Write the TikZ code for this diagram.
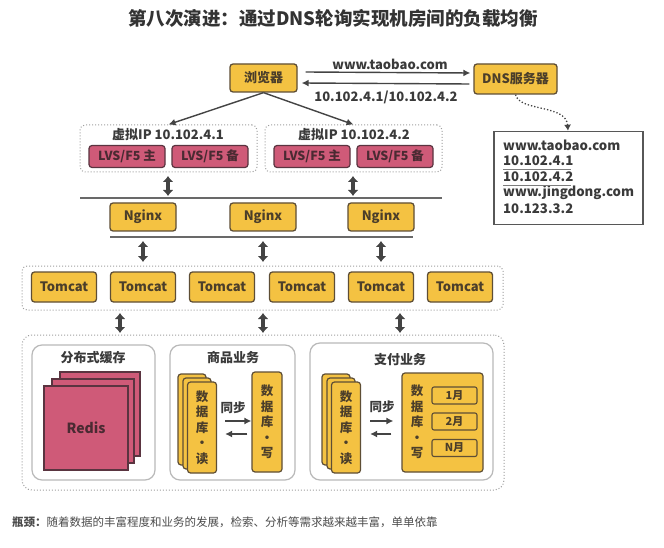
\documentclass[tikz,border=0pt]{standalone}
\usepackage{fontspec}
\setmainfont{Noto Sans CJK SC}
\usetikzlibrary{arrows.meta,calc}
\definecolor{yfill}{HTML}{F4C242}
\definecolor{ybd}{HTML}{5E4E35}
\definecolor{pfill}{HTML}{CF5A78}
\definecolor{pbd}{HTML}{5A3440}
\definecolor{txt}{HTML}{3A3A3A}
\definecolor{ptxt}{HTML}{4A2A32}
\definecolor{arr}{HTML}{444444}
\begin{document}
\begin{tikzpicture}[x=1pt,y=-1pt,
  every node/.style={text=txt},
  ybox/.style={draw=ybd, fill=yfill, line width=1.3pt, rounded corners=3pt, inner sep=0pt,
    font=\bfseries\fontsize{13}{15}\selectfont, text=ybd!80!black},
  pbox/.style={draw=pbd, fill=pfill, line width=1.2pt, rounded corners=3pt, inner sep=0pt,
    minimum width=76pt, minimum height=22pt, font=\bfseries\fontsize{12.5}{14}\selectfont, text=ptxt},
  grp/.style={draw=gray!75, dotted, line width=1pt, rounded corners=5pt, inner sep=0pt},
  inner/.style={draw=gray!55, line width=1.2pt, rounded corners=10pt, fill=white, inner sep=0pt},
  dbl/.style={line width=3.8pt, draw=arr, {Latex[length=6pt,width=11pt]}-{Latex[length=6pt,width=11pt]}},
  thin/.style={line width=1.4pt, draw=arr, -{Latex[length=7pt,width=7pt]}},
  lbl/.style={font=\bfseries\fontsize{13}{15}\selectfont, inner sep=0pt},
  tlbl/.style={font=\bfseries\fontsize{13.2}{15}\selectfont, inner sep=0pt, anchor=west},
  vtxt/.style={font=\bfseries\fontsize{12.5}{15.5}\selectfont, align=center, text=ybd!80!black, inner sep=0pt},
  dbr/.style={draw=ybd, fill=yfill, line width=1.2pt, rounded corners=3pt},
  sq/.style={draw=pbd, fill=pfill, line width=1.1pt},
  hline/.style={draw=arr!80, line width=1.4pt},
  mbox/.style={draw=ybd, line width=1.1pt, rounded corners=2pt, minimum width=45pt, minimum height=17pt, inner sep=0pt, font=\bfseries\fontsize{11}{12}\selectfont, text=ybd!80!black}
]
\useasboundingbox (0,0) rectangle (664,548);
\fill[white] (0,0) rectangle (664,548);

% title
\node[font=\bfseries\fontsize{18.5}{20}\selectfont, text=black!80] (title) at (333,18) {第八次演进：通过DNS轮询实现机房间的负载均衡};

% browser & dns
\node[ybox, minimum width=67pt, minimum height=28pt] (br) at (263.5,78) {浏览器};
\node[ybox, minimum width=83pt, minimum height=30pt] (dns) at (515.5,79) {DNS服务器};
\draw[thin] ([xshift=8pt,yshift=6pt]br.east) -- ([xshift=-3pt,yshift=6pt]dns.west);
\draw[thin] ([xshift=-4pt,yshift=-5pt]dns.west) -- ([xshift=4pt,yshift=-5pt]br.east);
\node[lbl] (l1) at (390,64) {www.taobao.com};
\node[lbl] (l2) at (386,97) {10.102.4.1/10.102.4.2};

% DNS table
\node[draw=arr!90, line width=1.6pt, minimum width=149pt, minimum height=93pt, inner sep=0pt] (tbl) at (568.5,178) {};
\node[tlbl] (t1) at (503,145) {www.taobao.com};
\node[tlbl] (t2) at (503,161) {10.102.4.1};
\node[tlbl] (t3) at (503,177) {10.102.4.2};
\node[tlbl] (t4) at (503,193) {www.jingdong.com};
\node[tlbl] (t5) at (503,209) {10.123.3.2};
\draw[arr!70, line width=0.9pt] (503,169.5) -- (571,169.5);
\draw[arr!70, line width=0.9pt] (503,185) -- (571,185);
\draw[arr, dotted, line width=1.3pt, -{Latex[length=6pt,width=7pt]}] (dns.south) .. controls (520,112) and (566,104) .. (tbl.north -| 568,0);

% virtual IP groups
\node[grp, minimum width=177pt, minimum height=47pt] (g1) at (168.5,148.5) {};
\node[grp, minimum width=177pt, minimum height=47pt] (g2) at (353.5,148.5) {};
\draw[thin] (br.south) -- (g1.north);
\draw[thin] (br.south) -- (g2.north);
\node[lbl] (v1) at (168,135) {虚拟IP 10.102.4.1};
\node[lbl] (v2) at (354,135) {虚拟IP 10.102.4.2};
\node[pbox] (p1) at (127,156.5) {LVS/F5 主};
\node[pbox] (p2) at (210,156.5) {LVS/F5 备};
\node[pbox] (p3) at (312,156.5) {LVS/F5 主};
\node[pbox] (p4) at (395,156.5) {LVS/F5 备};

% nginx layer
\coordinate (a1) at (168,176); \coordinate (a1b) at (168,196);
\coordinate (a2) at (353,176); \coordinate (a2b) at (353,196);
\draw[dbl] (a1) -- (a1b);
\draw[dbl] (a2) -- (a2b);
\coordinate (h1a) at (80,198); \coordinate (h1b) at (442,198);
\draw[hline] (h1a) -- (h1b);
\node[ybox, minimum width=66pt, minimum height=28pt] (n1) at (143,217) {Nginx};
\node[ybox, minimum width=66pt, minimum height=28pt] (n2) at (263,217) {Nginx};
\node[ybox, minimum width=66pt, minimum height=28pt] (n3) at (381,217) {Nginx};
\coordinate (h2a) at (110,237); \coordinate (h2b) at (413,237);
\draw[hline] (h2a) -- (h2b);
\coordinate (b1) at (143,241); \coordinate (b1b) at (143,262);
\coordinate (b2) at (263,241); \coordinate (b2b) at (263,262);
\coordinate (b3) at (381,241); \coordinate (b3b) at (381,262);
\draw[dbl] (b1) -- (b1b);
\draw[dbl] (b2) -- (b2b);
\draw[dbl] (b3) -- (b3b);

% tomcat layer
\node[grp, minimum width=481pt, minimum height=44pt] (tg) at (262.5,288) {};
\foreach \x [count=\i] in {64,143,222,302,381,460}
  \node[ybox, minimum width=65pt, minimum height=30pt] (tc\i) at (\x,287) {Tomcat};
\coordinate (c1) at (120,313); \coordinate (c1b) at (120,333);
\coordinate (c2) at (263,313); \coordinate (c2b) at (263,333);
\coordinate (c3) at (400,313); \coordinate (c3b) at (400,333);
\draw[dbl] (c1) -- (c1b);
\draw[dbl] (c2) -- (c2b);
\draw[dbl] (c3) -- (c3b);

% bottom group
\node[grp, minimum width=482pt, minimum height=155pt, rounded corners=10pt] (bg) at (263,412.5) {};

% cache
\node[inner, minimum width=123pt, minimum height=135pt] (ca) at (93.5,412.5) {};
\node[lbl] (cat) at (93,358) {分布式缓存};
\draw[sq] (60,372) rectangle (140,456);
\draw[sq] (52,379) rectangle (134,463);
\node[sq, minimum width=84pt, minimum height=84pt, inner sep=0pt,
  font=\bfseries\fontsize{14}{16}\selectfont, text=ptxt] (redis) at (86,428) {Redis};

% goods
\node[inner, minimum width=125pt, minimum height=135pt] (gd) at (232.5,412.5) {};
\node[lbl] (gdt) at (233,358) {商品业务};
\draw[dbr] (178,374) rectangle (206,465);
\draw[dbr] (183,378) rectangle (211,469);
\node[dbr, minimum width=29pt, minimum height=91pt, inner sep=0pt] (gr) at (202,427.5) {};
\node[vtxt] (grt) at (gr) {数\\据\\库\\·\\读};
\node[dbr, minimum width=30pt, minimum height=100pt, inner sep=0pt] (gw) at (267,422) {};
\node[vtxt] (gwt) at (gw) {数\\据\\库\\·\\写};
\node[lbl, font=\bfseries\fontsize{12.5}{14}\selectfont] (gs) at (233,408) {同步};
\draw[thin] ([xshift=8pt]gr.east |- 0,421) -- (gw.west |- 0,421);
\draw[thin] ([xshift=-4pt]gw.west |- 0,434) -- ([xshift=8pt]gr.east |- 0,434);

% payment
\node[inner, minimum width=183pt, minimum height=137pt] (pay) at (401.5,411.5) {};
\node[lbl] (payt) at (400,360) {支付业务};
\draw[dbr] (322,374) rectangle (350,465);
\draw[dbr] (327,378) rectangle (355,469);
\node[dbr, minimum width=29pt, minimum height=91pt, inner sep=0pt] (pr) at (346,427.5) {};
\node[vtxt] (prt) at (pr) {数\\据\\库\\·\\读};
\node[dbr, minimum width=81pt, minimum height=99pt, inner sep=0pt] (pw) at (442.5,422.5) {};
\node[vtxt] (pwt) at (417,422) {数\\据\\库\\·\\写};
\node[mbox] (m1) at (454.5,395.5) {1月};
\node[mbox] (m2) at (454.5,421.5) {2月};
\node[mbox] (m3) at (454.5,448) {N月};
\node[lbl, font=\bfseries\fontsize{12.5}{14}\selectfont] (ps) at (382,407) {同步};
\draw[thin] ([xshift=9pt]pr.east |- 0,421) -- ([xshift=-8pt]pw.west |- 0,421);
\draw[thin] ([xshift=-10pt]pw.west |- 0,434) -- ([xshift=9pt]pr.east |- 0,434);

% footer
\node[anchor=west, inner sep=0pt, font=\fontsize{11.5}{13}\selectfont, text=black!70] (foot) at (12,522)
  {{\bfseries 瓶颈：}随着数据的丰富程度和业务的发展，检索、分析等需求越来越丰富，单单依靠};
\end{tikzpicture}
\end{document}
